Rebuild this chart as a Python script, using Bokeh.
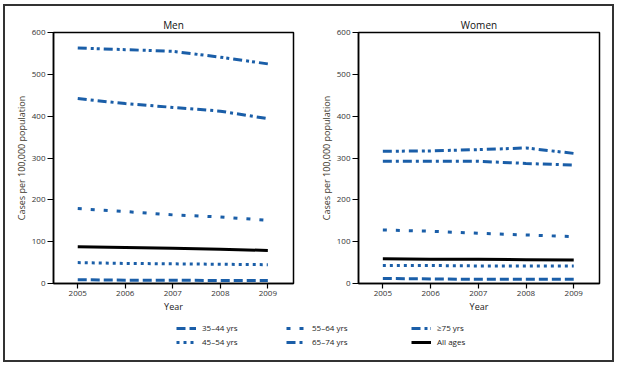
from bokeh.plotting import figure
from bokeh.layouts import column, row
from bokeh.models import Range1d, FixedTicker, Legend, LegendItem
from bokeh.embed import file_html
from bokeh.resources import INLINE

years = [2005, 2006, 2007, 2008, 2009]
y_ticks = [0, 100, 200, 300, 400, 500, 600]

labels = ["35\u201344 yrs", "45\u201354 yrs", "55\u201364 yrs", "65\u201374 yrs", "\u226575 yrs", "All ages"]

men_35_44 = [9, 8, 8, 7, 7]
men_45_54 = [50, 48, 47, 46, 45]
men_55_64 = [179, 172, 164, 159, 151]
men_65_74 = [442, 430, 421, 412, 394]
men_75 = [563, 559, 555, 541, 525]
men_all = [88, 86, 84, 82, 79]

women_35_44 = [12, 11, 10, 10, 10]
women_45_54 = [43, 43, 42, 42, 42]
women_55_64 = [128, 125, 120, 116, 112]
women_65_74 = [292, 292, 292, 287, 283]
women_75 = [316, 317, 320, 324, 311]
women_all = [59, 58, 58, 57, 56]

BLUE = "#1a5ea8"
FONT = "Open Sans"
styles = [
    dict(line_color=BLUE, line_dash="9 4"),
    dict(line_color=BLUE, line_dash="3 4"),
    dict(line_color=BLUE, line_dash="4 9"),
    dict(line_color=BLUE, line_dash="9 4 3 4"),
    dict(line_color=BLUE, line_dash="9 4 3 3 3 4"),
    dict(line_color="black", line_dash="solid"),
]


def make_panel(title, series, left, right, width):
    p = figure(width=width, height=315, title=title,
               x_range=Range1d(2004.49, 2009.54), y_range=Range1d(0, 600),
               output_backend="svg", toolbar_location=None,
               min_border_left=left, min_border_right=right,
               min_border_top=26, min_border_bottom=38)
    p.title.align = "center"
    p.title.text_font = FONT
    p.title.text_font_size = "10px"
    p.title.text_font_style = "normal"
    p.title.text_color = "#111111"
    p.title.standoff = 2
    p.grid.visible = False
    p.outline_line_color = "black"
    p.outline_line_width = 1.5
    p.outline_line_alpha = 1
    p.xaxis.ticker = FixedTicker(ticks=years)
    p.yaxis.ticker = FixedTicker(ticks=y_ticks)
    p.axis.minor_tick_line_color = None
    p.axis.major_tick_in = 0
    p.yaxis.major_tick_out = 6
    p.xaxis.major_tick_out = 5
    p.axis.major_tick_line_color = "black"
    p.axis.major_tick_line_width = 1.2
    p.axis.axis_line_color = "black"
    p.axis.axis_line_width = 1.5
    p.axis.major_label_standoff = 2
    p.axis.major_label_text_font = FONT
    p.axis.major_label_text_font_size = "8px"
    p.axis.major_label_text_color = "#333333"
    p.axis.axis_label_text_font = FONT
    p.axis.axis_label_text_font_size = "9px"
    p.axis.axis_label_text_font_style = "normal"
    p.xaxis.axis_label = "Year"
    p.xaxis.axis_label_text_color = "#222222"
    p.xaxis.axis_label_standoff = 1
    p.yaxis.axis_label = "Cases per 100,000 population"
    p.yaxis.axis_label_text_color = "#40382c"
    p.yaxis.axis_label_standoff = 1
    for vals, st in zip(series, styles):
        p.line(years, vals, line_width=3, line_cap="butt", **st)
    return p


men_series = [men_35_44, men_45_54, men_55_64, men_65_74, men_75, men_all]
women_series = [women_35_44, women_45_54, women_55_64, women_65_74, women_75, women_all]
men = make_panel("Men", men_series, 48, 17, 305)
women = make_panel("Women", women_series, 48, 13, 302)

# legend panel: its renderers carry the real data but lie outside its (0..1) view
leg = figure(width=607, height=39, x_range=Range1d(0, 1), y_range=Range1d(0, 1),
             output_backend="svg", toolbar_location=None,
             x_axis_type=None, y_axis_type=None,
             min_border_left=0, min_border_right=0, min_border_top=0, min_border_bottom=0)
leg.grid.visible = False
leg.outline_line_color = None
rends = [leg.line(years, vals, line_width=3, line_cap="butt", **st)
         for vals, st in zip(men_series, styles)]

for i, x in enumerate([171, 281, 406]):
    items = [LegendItem(label=labels[2 * i + k], renderers=[rends[2 * i + k]]) for k in range(2)]
    lg = Legend(items=items, location=(x, 13), orientation="vertical",
                border_line_color=None, background_fill_alpha=0,
                padding=0, margin=0, spacing=3,
                glyph_width=20, glyph_height=10, label_height=10,
                label_standoff=6, label_text_font=FONT,
                label_text_font_size="8px", label_text_color="#222222")
    leg.add_layout(lg, "center")

layout = column(row(men, women), leg, margin=(4, 0, 0, 3),
                styles={"border": "2px solid #333333"})

open("out.html", "w").write(file_html(layout, INLINE))
